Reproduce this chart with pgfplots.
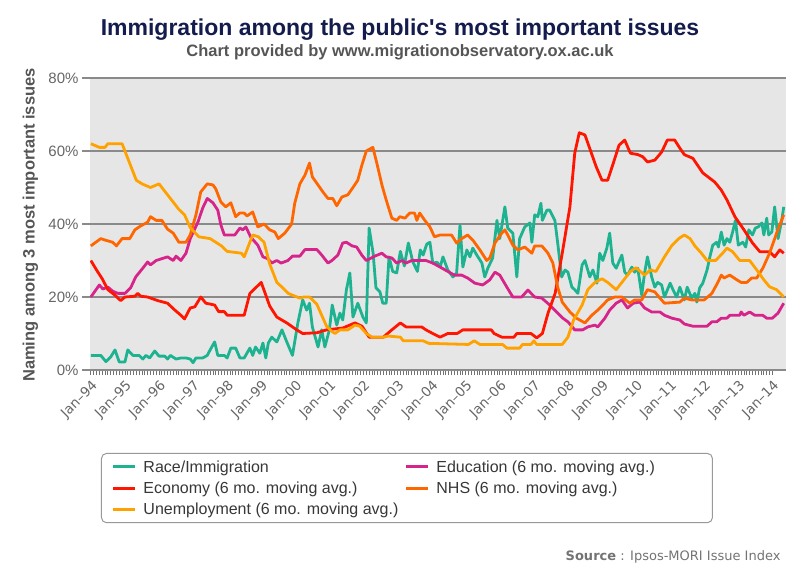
\documentclass[border=0pt]{standalone}
\usepackage{pgfplots}
\pgfplotsset{compat=1.18}
\usepackage{fontspec}
\setmainfont{Liberation Sans}
\newfontfamily\plainsans{Liberation Sans}
\newfontfamily\lucida{DejaVu Sans}
\definecolor{bgray}{HTML}{E6E6E6}
\definecolor{gridc}{HTML}{8A8A8A}
\definecolor{navy}{HTML}{141B4D}
\definecolor{subg}{HTML}{555555}
\definecolor{cteal}{HTML}{1DB391}
\definecolor{cmag}{HTML}{D6248A}
\definecolor{cred}{HTML}{FF1500}
\definecolor{cnhs}{HTML}{FF6600}
\definecolor{cunemp}{HTML}{FFA200}
\begin{document}
\begin{tikzpicture}[x=1pt,y=1pt]
\useasboundingbox (0,0) rectangle (800,571);
\node[font=\plainsans\bfseries\fontsize{23}{26}\selectfont, text=navy, anchor=base] at (400,535) {Immigration among the public's most important issues};
\node[font=\bfseries\fontsize{16.5}{19}\selectfont, text=subg, anchor=base] at (400,514) {Chart provided by www.migrationobservatory.ox.ac.uk};
\node[font=\bfseries\fontsize{16.5}{19}\selectfont, text=subg, rotate=90, anchor=base] at (34.5,346) {Naming among 3 most important issues};
\node[font=\lucida\fontsize{13}{15}\selectfont, text=black!55, anchor=east] at (784,14) {\textbf{Source} : Ipsos-MORI Issue Index};
\begin{axis}[
  at={(90pt,201pt)}, anchor=south west,
  scale only axis, width=696pt, height=292pt,
  xmin=-0.3, xmax=244.8, ymin=0, ymax=80,
  axis background/.style={fill=bgray},
  axis x line*=bottom, axis y line*=left,
  x axis line style={draw=gridc, line width=1.5pt, -},
  y axis line style={draw=none},
  ytick={0,20,40,60,80},
  yticklabel={\pgfmathprintnumber{\tick}\%},
  /pgf/number format/assume math mode=true,
  yticklabel style={font=\fontsize{15}{17}\selectfont, text=black!60},
  ymajorgrids, grid style={draw=gridc, line width=1.5pt},
  tick align=outside,
  major tick length=8pt, minor tick length=5pt,
  ytick style={draw=gridc, line width=1.5pt},
  xtick style={draw=black!55, line width=0.8pt, /pgfplots/major tick length=5pt},
  minor x tick style={draw=black!55, line width=0.8pt},
  xtick={0,12,...,240},
  xticklabels={Jan–94,Jan–95,Jan–96,Jan–97,Jan–98,Jan–99,Jan–00,Jan–01,Jan–02,Jan–03,Jan–04,Jan–05,Jan–06,Jan–07,Jan–08,Jan–09,Jan–10,Jan–11,Jan–12,Jan–13,Jan–14},
  minor x tick num=11,
  xticklabel style={font=\lucida\fontsize{13.5}{15}\selectfont, text=black!60, rotate=45, anchor=north east, inner sep=1pt},
  legend columns=2,
  legend cell align=left,
  legend image code/.code={\draw[#1, line width=3pt] (0pt,0pt) -- (22pt,0pt);},
  legend style={at={(0.0158,-0.284)}, anchor=north west, draw=black!40, line width=1pt, rounded corners=5pt, fill=white,
    font=\fontsize{16}{19}\selectfont, text=black!78, inner xsep=10pt, inner ysep=5pt, row sep=4pt,
    /tikz/every odd column/.append style={column sep=5pt},
    /tikz/every even column/.append style={column sep=4pt}},
  every axis plot/.append style={line width=2.8pt, line join=round},
]
\addplot[cteal] coordinates {
(0,4)(3.5,4)(5.3,2.3)(7,3.6)(8.5,5.5)(10,2.2)(12,2.2)(13,5.5)(14.8,4)(17,4)(18.3,3)(19.4,4)(20.7,3.3)(22.5,5.2)(24,3.8)(26,3.8)(27,3)(28,4)(30,3)(31.7,3.3)(33.5,3.3)(35,3)(36,2)(37,3.3)(39.4,3.3)(41,4)(42,5.5)(43.6,7.7)(44.7,4)(47,4)(48,3.3)(49.3,6)(51,6)(52.5,3.3)(54,3.3)(56,6)(57,4)(58,6.3)(59.5,4.6)(60.6,7.4)(61.6,3.3)(62.5,7.4)(63.7,9)(65.5,7.7)(67.3,11)(69,7.7)(71,4)(72.9,12.9)(74.6,19.2)(76,16.4)(77,18.3)(78,11.8)(80,6.3)(81.3,11)(82.4,6.3)(84,11)(85,17.8)(86.6,12.3)(87.7,15.6)(88.7,13.7)(90,22)(91.2,26.6)(92.3,14.5)(94,18.3)(95.8,14.5)(97,12.9)(98,38.9)(99.4,32)(100.4,22.5)(101.8,21.4)(102.8,18.3)(104,18.3)(105,31)(106.3,27)(107.7,26.6)(109,32.5)(110.4,28.5)(111.8,34.8)(113.4,29.6)(115,27)(116,32.9)(117,31.5)(118.3,34.5)(119.4,35)(120.4,29.3)(122,29.5)(123,28.2)(124,31)(125.7,27.4)(127.5,25.5)(128.8,26.6)(130,39.7)(131,28.2)(132.4,32.9)(133.5,31)(134.5,33.4)(135.9,31.5)(137.7,29.3)(138.7,25.5)(139.8,27.9)(141.5,30.7)(143,41)(144,36)(145.8,44.7)(146.8,38.9)(148.6,37.5)(150,25.5)(151,36)(152.8,39.2)(154.6,40.3)(155.3,35)(156.3,42.5)(157.4,42)(158.5,45.7)(159,41)(160.6,43.8)(161.6,43.8)(163.4,41)(164.4,34.8)(165.8,25.5)(167,27.4)(168,26.8)(169.4,22.7)(170.4,22)(171.5,21)(173,28.8)(174,30)(175.7,25.5)(176.8,27.4)(178.2,23.8)(179.2,32)(180.3,30)(181.7,33.4)(182.7,37.5)(183.8,29.3)(185,27.9)(187,31.5)(188,26.8)(189,26)(190.5,28.2)(191.5,26.8)(192.6,27.9)(194,20.5)(195,26.6)(196,31)(197.5,25.5)(198.6,22.7)(199.6,24)(201,23.3)(202,20)(204,23.8)(205,22)(206.3,20)(207.4,22.7)(209,19.2)(210,22.7)(211.6,19.7)(212.7,21)(213.4,18.6)(214.4,22.5)(215.5,23.8)(217,27.4)(218,31)(219,34.2)(220.4,35)(221,33.7)(222,37.8)(223,34.2)(224,36)(225,35)(226,37.8)(227,41)(228,34.2)(229.6,35)(230.6,33.7)(231.7,38.4)(233,37)(234,38.9)(235,39.2)(236.3,40.3)(237,37)(238,41.6)(238.7,37)(239.8,37.8)(240.8,44.7)(242,36)(243.3,41)(244,44.7)
};
\addlegendentry{Race/Immigration}
\addplot[cmag] coordinates {
(0,20)(3,23.3)(4.2,22.2)(6,22.7)(7.7,21.6)(9.5,21)(12,21)(14,22.5)(15.8,25.5)(18.3,27.9)(20,29.6)(21,28.8)(23,30)(27,31)(29,30)(30,31.2)(31.7,30)(33.5,32)(35,36)(37.7,40.5)(39.4,44.4)(41,47)(43,45.8)(44.7,43.8)(45.8,39.7)(47,37)(50.7,37)(52.5,38.9)(53.5,38.4)(54.6,39.2)(56.3,36.4)(58.8,34.2)(60.6,31)(62.3,30.5)(63.7,29.3)(65.5,30)(67,29.3)(69.4,30)(71,31.2)(73.6,31.2)(75.4,33)(79.6,33)(81.3,31.5)(83.5,29.3)(84.9,30)(87,31.5)(88.7,34.8)(90,35)(92,34)(93.6,33.7)(95.4,31.5)(97,30)(100,31.2)(102.5,32)(104,31)(106,30.7)(107.7,29.3)(109.5,30)(111,29.3)(113,30)(118,30)(120.4,29.3)(123,28.2)(125.7,27)(128,26)(130.6,26)(132.7,25.2)(135.2,23.8)(138,23.3)(140.5,24.7)(142.3,26.8)(144,26)(146.5,22.7)(148.6,20)(151.7,20)(153.9,21.9)(156.3,20)(158.8,19.7)(161.6,17.8)(164,15.9)(166.2,14.2)(168,13.2)(170.4,11)(173.2,11)(175,11.8)(177.5,12.3)(178.5,11.8)(181,14.2)(182.7,16.4)(185,18.3)(187,19.2)(189,17)(191,18.3)(193.3,18.6)(195,17)(197.5,15.9)(200.4,15.9)(202,15)(204.6,14.2)(207.4,13.7)(209,12.6)(212,12)(217,12)(218.7,13.2)(220.4,13.2)(222,14.2)(224,14.2)(225,15)(228.5,15)(229,15.9)(230,15)(232,15.9)(233.8,15)(236.6,15)(238,14.2)(240,14.2)(242,15.6)(244,18.3)
};
\addlegendentry{\makebox[264pt][l]{Education (6 mo. moving avg.)}}
\addplot[cred] coordinates {
(0,30)(2,27.4)(4,25)(6,22)(8.5,20.5)(10.5,19)(12,20)(15.5,20.2)(16.5,21)(17.6,20.2)(20,20)(23.6,19)(27,18.3)(29.6,16.4)(31.7,15)(33,14)(35,17)(36.6,17.3)(38.7,20)(40.5,18.3)(43.6,17.8)(45,16)(47,16)(48,15)(54,15)(56,21)(60,24)(63,17.5)(65.5,14.5)(69,12.9)(72.5,11)(74.6,10)(79.6,10.2)(83,11)(88.7,11.5)(93,12.9)(95.5,12)(98,9)(103,9)(106,11)(109,12.9)(111,11.8)(116.5,11.8)(118,11)(120.4,10)(123,9)(125.7,10)(129,10)(131,11)(141,11)(142,10)(144.7,9)(149,9)(150,10)(155,10)(157,8.8)(159,10)(161,15.6)(163.5,21)(166,32)(168.7,44.7)(170.4,59.4)(172,65)(174,64.4)(176,60)(178,55.6)(180,52)(182,52)(184,56.7)(186,61.6)(188,63)(190,59.4)(192.7,59)(194.4,58.4)(196,57)(198.6,57.5)(201,59.7)(203,63)(205.6,63)(207.4,60.8)(209,59)(212,58)(215.5,54)(219.7,51.5)(222,49.3)(224,46.6)(226.8,42)(230,38.4)(233,34.8)(235.6,32.4)(239,32.4)(240.8,31)(242.6,32.9)(244,32)
};
\addlegendentry{Economy (6 mo. moving avg.)}
\addplot[cnhs] coordinates {
(0,34)(3.5,36)(5,35.6)(7.7,35)(9,34)(11,36)(13.7,36)(15.5,38.4)(17.6,39.5)(20,40.5)(21,42)(23,41)(25,41)(27,38.6)(29,37.5)(31,35)(33.5,35)(35,37)(37,42.5)(38.7,48.8)(41,51)(43,50.7)(44,49.6)(45.8,46)(47.5,44.7)(49.3,45.8)(51,42)(52.4,43)(54,43)(55,42.2)(57,43.3)(58.8,39.2)(61,40)(63,38.4)(64.8,37.8)(66,36)(68.3,37.5)(70.7,40)(71.8,45.7)(73.6,51)(75.4,53.4)(77,56.7)(78,52.9)(80,50.7)(81.7,48.8)(83.5,47)(85.2,47)(86.6,45)(88.4,47.4)(90.5,48)(92.3,50)(94,52)(95.4,56)(97,60)(99.3,61)(100.7,56.7)(102.5,50.7)(104,46.6)(106,41.6)(107.7,41)(108.8,42)(110.6,41.6)(112.3,43)(114,43)(114.8,41)(115.8,43)(117.6,41)(119.4,39.2)(121,36.5)(123,37)(127,37)(128.8,34.8)(130.6,36)(132.7,37)(134.5,35.6)(137,32.9)(139.4,30)(140.5,30.7)(142.3,34.8)(144.7,37.5)(145.8,38.4)(146.8,37)(148.6,34.2)(150.4,32.9)(152.8,33.7)(155.3,32)(156.3,34)(158.8,34)(161,32)(162.7,29.3)(164.4,22.7)(166,18.6)(168.7,15.9)(171,14.2)(174,12.9)(176.4,15)(178.5,16.4)(180.3,17.8)(182,19.2)(184.5,20)(187,20)(189.8,18.3)(191.5,19.2)(194,19.2)(196,22)(198.6,21.4)(200.4,19.7)(202,18.3)(207.4,18.6)(209,19.7)(211.6,19.2)(216,19.2)(218.7,21)(220.8,24)(222,26)(223,25.2)(225,26)(227.5,24.7)(229,24)(231,24)(232.7,25.2)(234.5,25.2)(236.7,28)(239,32)(241.5,37.5)(244,42.5)
};
\addlegendentry{NHS (6 mo. moving avg.)}
\addplot[cunemp] coordinates {
(0,62)(3,61)(5,61)(6,62)(11,62)(14,56)(16,52)(18,51)(21,50)(24,51)(27,48)(31,44)(33,42.5)(35,39)(38,36.5)(42,36)(44,35)(46,34)(48,32.5)(53,32)(54,31)(57,37)(59,36.5)(61,35)(63,29)(65.5,24)(67.6,22.5)(69.5,21)(71,20.5)(73.6,19.7)(75,20)(77,20)(79.6,18)(81,15.5)(83,12)(85,10.5)(86,10)(87.7,11)(90.5,11)(93,12.3)(94.7,12)(97,10)(99,9)(103,9)(104.6,9.3)(109,9)(110,8)(117,8)(119,7.3)(133,7)(135,8)(137,7)(145,7)(146.5,6)(151,6)(152,7)(155,7)(156,8)(157,7)(166,7)(168,9)(170,13.7)(173,17.8)(175,22)(177.5,24)(180,25)(182,24)(185,22)(187,24)(190,27)(192,28)(195,26)(197,27.4)(199,27)(202,31)(204.5,34)(207,36)(209,37)(211,36)(212.7,34)(215,32)(217,30)(220,30)(222.5,32)(224,33.4)(226,32.4)(228.5,30)(232,30)(234.5,27.4)(237,24.7)(239,22.8)(241.5,22)(244,20)
};
\addlegendentry{Unemployment (6 mo. moving avg.)}
\end{axis}
\end{tikzpicture}
\end{document}
